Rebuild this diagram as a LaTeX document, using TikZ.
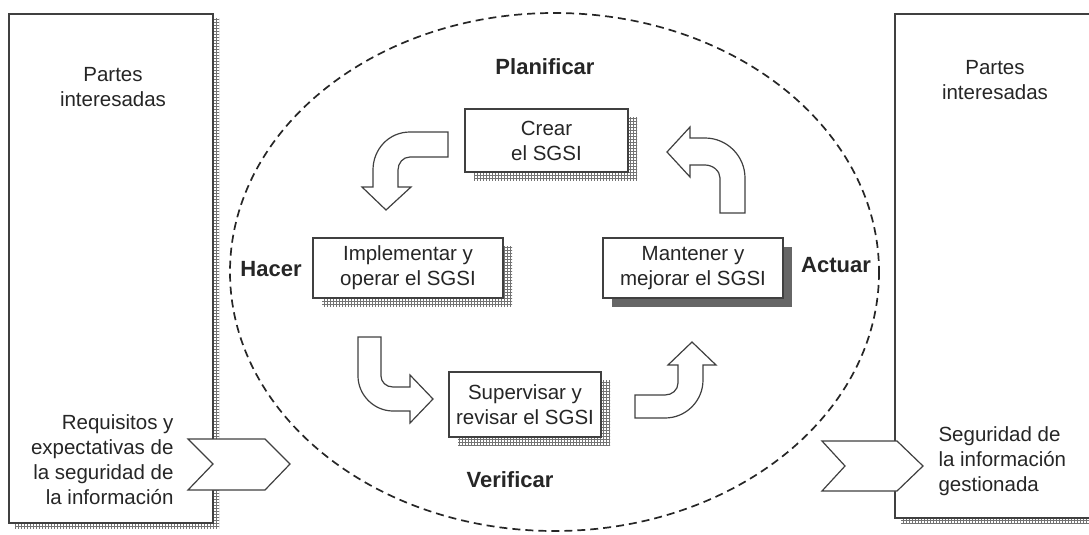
\documentclass[tikz,border=0pt]{standalone}
\usepackage{fontspec}
\setmainfont{Liberation Sans}
\usetikzlibrary{patterns,shadows}

\tikzset{
  caja/.style={
    draw=black!75, line width=1.2pt, fill=white, inner sep=0pt,
    align=center, text=black!85,
    font=\fontsize{20.5}{25}\selectfont
  },
  sombra/.style={
    general shadow={shadow xshift=9pt, shadow yshift=-8pt,
      pattern=grid, pattern color=black!55}
  },
  sombraosc/.style={
    general shadow={shadow xshift=9pt, shadow yshift=-9pt,
      fill=black!60}
  },
  flecha/.style={draw=black!75, line width=1.2pt, fill=white,
    line join=miter},
  etiq/.style={text=black!85, font=\bfseries\fontsize{22}{26}\selectfont},
  texto/.style={text=black!85, font=\fontsize{20.5}{25}\selectfont}
}

\begin{document}
\begin{tikzpicture}[x=1pt, y=-1pt]
  \useasboundingbox (0,0) rectangle (1089,535);
  \clip (0,0) rectangle (1089,535);

  % Partes interesadas (izquierda y derecha)
  \node[caja, minimum width=204, minimum height=509,
    general shadow={shadow xshift=6pt, shadow yshift=-5pt,
      pattern=grid, pattern color=black!55}]
    (izq) at (111,268.5) {};
  \node[caja, minimum width=220, minimum height=504,
    general shadow={shadow xshift=6pt, shadow yshift=-5pt,
      pattern=grid, pattern color=black!55}]
    (der) at (1005,266) {};

  \node[texto, align=center] (pi1) at (113,87) {Partes\\interesadas};
  \node[texto, align=center] (pi2) at (995,80) {Partes\\interesadas};
  \node[texto, align=right, anchor=east] (req) at (177,460)
    {Requisitos y\\expectativas de\\la seguridad de\\la información};
  \node[texto, align=left, anchor=west] (seg) at (935,461)
    {Seguridad de\\la información\\gestionada};

  % Ciclo
  \draw[black!85, line width=1.7pt, dash pattern=on 8pt off 5pt]
    (554.5,272) ellipse[x radius=324.5, y radius=259];

  \node[etiq] (plan) at (545,67) {Planificar};
  \node[etiq] (hacer) at (271,269) {Hacer};
  \node[etiq] (actuar) at (836,265) {Actuar};
  \node[etiq] (verif) at (510,480) {Verificar};

  % Etapas
  \node[caja, sombra, minimum width=163, minimum height=63]
    (crear) at (546.5,140.5) {Crear\\el SGSI};
  \node[caja, sombra, minimum width=190, minimum height=60]
    (impl) at (408,268) {Implementar y\\operar el SGSI};
  \node[caja, sombraosc, minimum width=180, minimum height=60]
    (mant) at (693,268) {Mantener y\\mejorar el SGSI};
  \node[caja, sombra, minimum width=152, minimum height=65]
    (superv) at (525,404.5) {Supervisar y\\revisar el SGSI};

  % Flechas curvas
  \draw[flecha]
    (448,132) -- (410,132)
    .. controls (389,132) and (373,149) .. (373,170)
    -- (373,187) -- (362,187) -- (386,210) -- (411,187) -- (398,187)
    -- (398,170) .. controls (398,163) and (403,157) .. (410,157)
    -- (448,157) -- cycle;
  \draw[flecha]
    (720,213) -- (745,213) -- (745,178)
    .. controls (745,156) and (727,138) .. (705,138)
    -- (690,138) -- (690,127) -- (667,152) -- (690,177) -- (690,165)
    -- (705,165) .. controls (713,165) and (720,171) .. (720,178)
    -- cycle;
  \draw[flecha]
    (358,337) -- (381,337) -- (381,376)
    .. controls (381,382) and (386,387) .. (393,387)
    -- (410,387) -- (410,375) -- (433,399) -- (410,423) -- (410,411)
    -- (393,411) .. controls (374,411) and (358,395) .. (358,376)
    -- cycle;
  \draw[flecha]
    (635,395) -- (665,395) .. controls (672,395) and (678,390) .. (678,383)
    -- (678,365) -- (668,365) -- (692,342) -- (716,365) -- (703,365)
    -- (703,380) .. controls (703,401) and (686,418) .. (665,418)
    -- (635,418) -- cycle;

  % Entrada y salida
  \draw[flecha]
    (188,439) -- (265,439) -- (290,464) -- (265,490) -- (188,490)
    -- (213,464) -- cycle;
  \draw[flecha]
    (822,441) -- (897,441) -- (923,466) -- (897,491) -- (822,491)
    -- (845,466) -- cycle;
\end{tikzpicture}
\end{document}
